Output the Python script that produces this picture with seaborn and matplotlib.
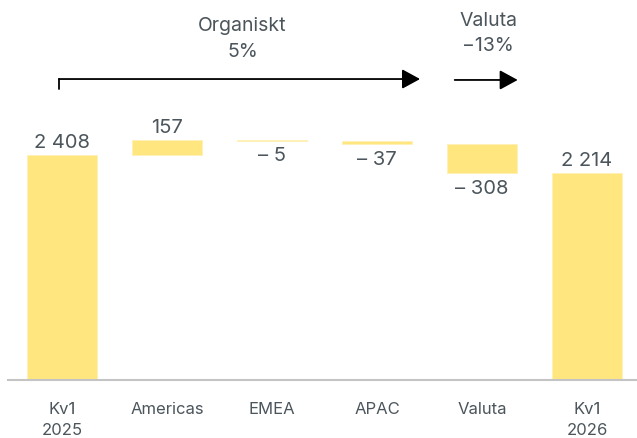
import matplotlib
matplotlib.use("Agg")
import matplotlib.pyplot as plt
import seaborn as sns
import numpy as np
import pandas as pd

categories = ["Kv1\n2025", "Americas", "EMEA", "APAC", "Valuta", "Kv1\n2026"]
changes = [2408, 157, -5, -37, -308, 2214]
is_total = [True, False, False, False, False, True]

barColor = '#ffe67e'
textColor = '#4b555b'

def fmt(v):
    s = '{:,}'.format(abs(v)).replace(',', ' ')
    return '\u2013 ' + s if v < 0 else s

# floating bars for the waterfall
bottoms = []
heights = []
run = 0
for v, tot in zip(changes, is_total):
    if tot:
        bottoms.append(0)
        heights.append(v)
        run = v
    else:
        bottoms.append(min(run, run + v))
        heights.append(abs(v))
        run += v

df = pd.DataFrame({'cat': categories, 'height': heights})

sns.set_style('white')
plt.rcParams['font.family'] = ['Inter', 'DejaVu Sans']

fig = plt.figure(figsize=(6.37, 4.39), dpi=100)
ax = fig.add_axes([8/637, 58/439, 629/637, 381/439])
sns.barplot(data=df, x='cat', y='height', color=barColor, saturation=1,
            width=0.667, bottom=bottoms, edgecolor='#fff0b8', linewidth=0.6, ax=ax)

ax.set_xlim(-0.514, 5.476)
ax.set_ylim(0, 4080)
for s in ['top', 'right', 'left']:
    ax.spines[s].set_visible(False)
ax.spines['bottom'].set_color('#c4c4c4')
ax.spines['bottom'].set_linewidth(1.5)
ax.set_yticks([])
ax.set_xlabel('')
ax.set_ylabel('')
ax.tick_params(axis='x', length=0, pad=15, labelsize=12, labelcolor=textColor)
for lbl in ax.get_xticklabels():
    lbl.set_linespacing(1.55)

for i, (v, tot) in enumerate(zip(changes, is_total)):
    if tot or v > 0:
        ax.annotate(fmt(v), (i, bottoms[i] + heights[i]), xytext=(0, 3),
                    textcoords='offset points', ha='center', va='bottom',
                    fontsize=14.5, color=textColor)
    else:
        ax.annotate(fmt(v), (i, bottoms[i]), xytext=(0, -4),
                    textcoords='offset points', ha='center', va='top',
                    fontsize=14.5, color=textColor)

# Organiskt bracket arrow
ax.plot([-0.03, -0.03], [3116, 3223], color='black', lw=1.3)
ax.annotate('', xy=(3.41, 3223), xytext=(-0.03, 3223),
            arrowprops=dict(arrowstyle='-|>,head_length=0.55,head_width=0.3',
                            color='black', lw=1.3, mutation_scale=20, shrinkA=0, shrinkB=0))
ax.annotate('', xy=(4.34, 3213), xytext=(3.74, 3213),
            arrowprops=dict(arrowstyle='-|>,head_length=0.55,head_width=0.3',
                            color='black', lw=1.3, mutation_scale=20, shrinkA=0, shrinkB=0))
ax.text(1.72, 3663, 'Organiskt\n5%', ha='center', va='center', fontsize=14,
        color=textColor, linespacing=1.55)
ax.text(4.06, 3720, 'Valuta\n\u221213%', ha='center', va='center', fontsize=14,
        color=textColor, linespacing=1.55)

fig.savefig('out.png', dpi=100)
